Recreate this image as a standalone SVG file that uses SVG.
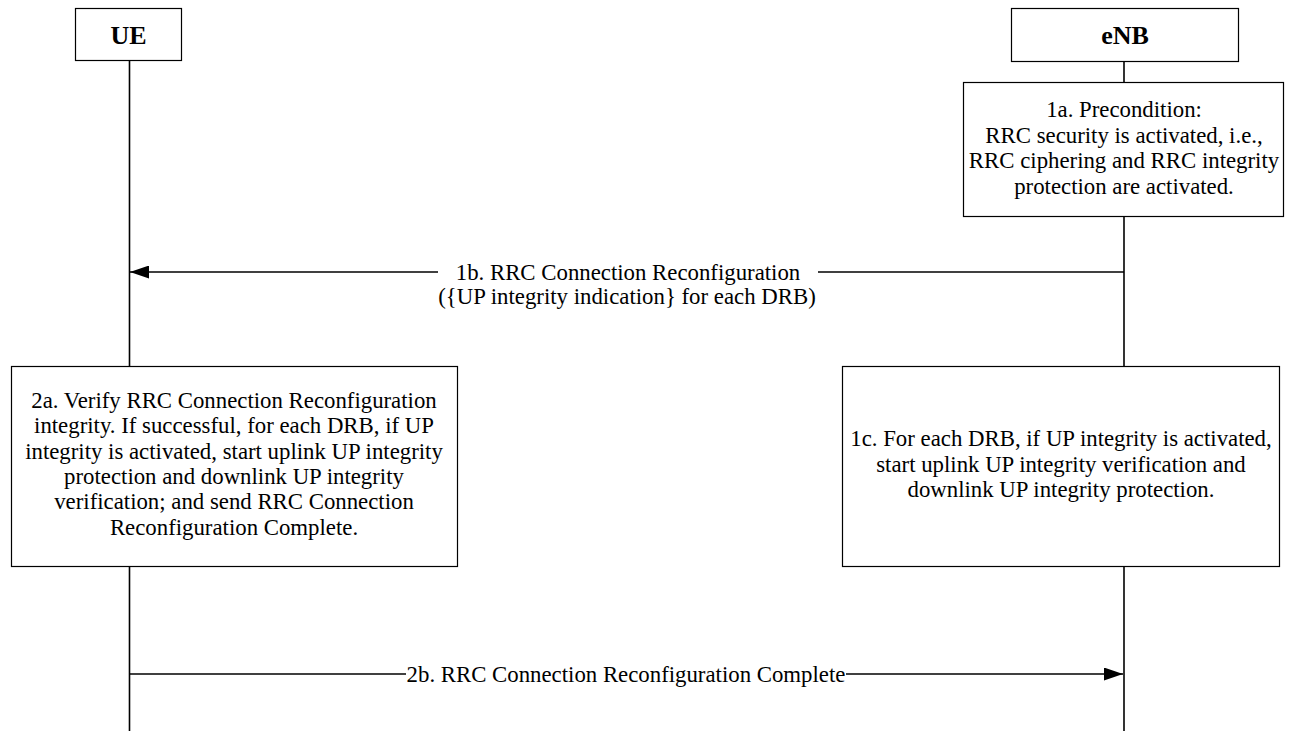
<svg xmlns="http://www.w3.org/2000/svg" width="1290" height="731" viewBox="0 0 1290 731">
<defs>
<style>
.box{fill:#fff;stroke:#000;stroke-width:1.2}
.life{stroke:#000;stroke-width:1.6;fill:none}
.msg{stroke:#000;stroke-width:1.6;fill:none}
.t{font-family:"Liberation Serif","Times New Roman",serif;font-size:22.8px;fill:#000;text-anchor:middle}
.h{font-family:"Liberation Serif","Times New Roman",serif;font-size:26px;font-weight:bold;fill:#000;text-anchor:middle}
</style>
<marker id="arr" markerWidth="19" markerHeight="13" refX="19" refY="6.5" orient="auto" markerUnits="userSpaceOnUse">
<path d="M0,0 L19,6.5 L0,13 Z" fill="#000"/>
</marker>
</defs>
<rect width="1290" height="731" fill="#fff"/>
<g id="lifelines">
<line class="life" x1="129.5" y1="61" x2="129.5" y2="731"/>
<line class="life" x1="1124" y1="62" x2="1124" y2="731"/>
</g>
<g id="UE">
<rect class="box" x="75.5" y="8.5" width="106" height="52"/>
<text class="h" x="128.5" y="43.5">UE</text>
</g>
<g id="eNB">
<rect class="box" x="1011.5" y="8.5" width="227" height="53"/>
<text class="h" x="1125" y="44">eNB</text>
</g>
<g id="step1a">
<rect class="box" x="963.5" y="82.5" width="320" height="134"/>
<text class="t" x="1124" y="117">1a. Precondition:</text>
<text class="t" x="1124" y="142.5">RRC security is activated, i.e.,</text>
<text class="t" x="1124" y="168">RRC ciphering and RRC integrity</text>
<text class="t" x="1124" y="193.5">protection are activated.</text>
</g>
<g id="step2a">
<rect class="box" x="11.5" y="366.5" width="446" height="200"/>
<text class="t" x="234" y="408">2a. Verify RRC Connection Reconfiguration</text>
<text class="t" x="234" y="433.3">integrity. If successful, for each DRB, if UP</text>
<text class="t" x="234" y="458.7">integrity is activated, start uplink UP integrity</text>
<text class="t" x="234" y="484">protection and downlink UP integrity</text>
<text class="t" x="234" y="509.4">verification; and send RRC Connection</text>
<text class="t" x="234" y="534.8">Reconfiguration Complete.</text>
</g>
<g id="step1c">
<rect class="box" x="842.5" y="366.5" width="437" height="200"/>
<text class="t" x="1061" y="446">1c. For each DRB, if UP integrity is activated,</text>
<text class="t" x="1061" y="471.5">start uplink UP integrity verification and</text>
<text class="t" x="1061" y="497">downlink UP integrity protection.</text>
</g>
<g id="connectors">
<line class="msg" x1="1124" y1="272" x2="818" y2="272"/>
<line class="msg" x1="438" y1="272" x2="130" y2="272" marker-end="url(#arr)"/>
<text class="t" x="628" y="279.5">1b. RRC Connection Reconfiguration</text>
<text class="t" x="627" y="303.5">({UP integrity indication} for each DRB)</text>
<line class="msg" x1="130" y1="674" x2="406" y2="674"/>
<line class="msg" x1="846" y1="674" x2="1123" y2="674" marker-end="url(#arr)"/>
<text class="t" x="626" y="681.5">2b. RRC Connection Reconfiguration Complete</text>
</g>
</svg>
